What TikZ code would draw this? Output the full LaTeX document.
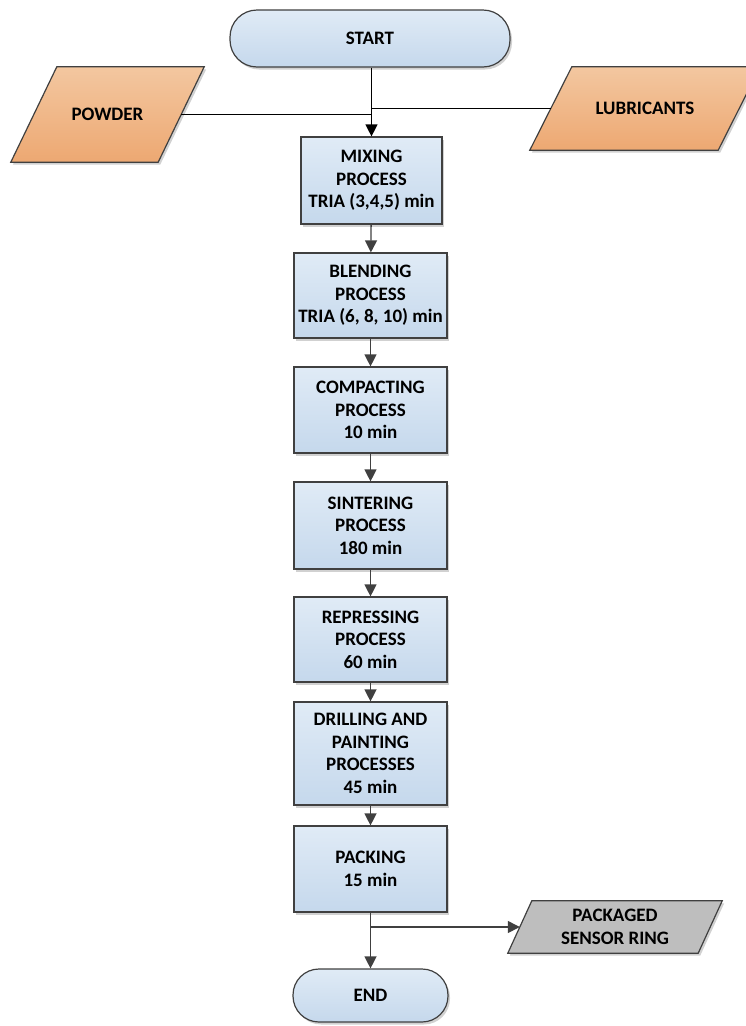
\documentclass[tikz,border=0pt]{standalone}
\usepackage{fontspec}
\setmainfont{Carlito}
\usetikzlibrary{shapes.misc,shadows,arrows.meta}
\definecolor{bluetop}{RGB}{224,235,246}
\definecolor{bluebot}{RGB}{197,216,236}
\definecolor{ortop}{RGB}{243,199,160}
\definecolor{orbot}{RGB}{237,168,114}
\definecolor{graybox}{RGB}{190,190,190}
\definecolor{edge}{RGB}{64,64,64}
\pgfdeclarelayer{bg}
\pgfsetlayers{bg,main}
\tikzset{
  every node/.style={font=\fontsize{19}{22.5}\selectfont\bfseries, align=center, inner sep=0pt},
  shad/.style={drop shadow={shadow xshift=2pt, shadow yshift=-2.5pt, fill=black, opacity=0.18}},
  procbox/.style={rectangle, draw=edge, line width=1.2pt, top color=bluetop, bottom color=bluebot, shad, minimum width=153pt},
  term/.style={rectangle, rounded corners=27pt, draw=edge, line width=1.2pt, top color=bluetop, bottom color=bluebot, shad},
  iotext/.style={rectangle},
  ioshape/.style={draw=edge, line width=1.2pt, shad, line join=miter},
  orangefill/.style={top color=ortop, bottom color=orbot},
  flow/.style={draw=edge, line width=1.3pt, -{Triangle[length=12pt,width=12pt]}},
  feed/.style={draw=black, line width=1.2pt},
}
\newcommand{\paraof}[3]{% node, half slant, style
  \begin{pgfonlayer}{bg}
  \path[ioshape,#3] ([xshift=-#2pt]#1.south west) -- ([xshift=-#2pt]#1.south east) -- ([xshift=#2pt]#1.north east) -- ([xshift=#2pt]#1.north west) -- cycle;
  \end{pgfonlayer}}
\begin{document}
\begin{tikzpicture}[x=1pt,y=-1pt]
\useasboundingbox (0,0) rectangle (745,1026);
\clip (0,0) rectangle (745,1026);
\node[term, minimum width=280pt, minimum height=57pt] (start) at (370,38.5) {START};
\node[iotext, minimum width=147pt, minimum height=95pt] (powder) at (107.5,114.5) {POWDER};
\paraof{powder}{23}{orangefill}
\node[iotext, minimum width=188pt, minimum height=83pt] (lub) at (645,108.5) {LUBRICANTS};
\paraof{lub}{21}{orangefill}
\node[procbox, minimum width=141pt, minimum height=87pt] (mix) at (371.5,180.5) {MIXING\\PROCESS\\TRIA (3,4,5) min};
\node[procbox, minimum height=85pt] (blend) at (370.5,295.5) {BLENDING\\PROCESS\\TRIA (6, 8, 10) min};
\node[procbox, minimum height=86pt] (comp) at (370.5,410) {COMPACTING\\PROCESS\\10 min};
\node[procbox, minimum height=87pt] (sint) at (370.5,525.5) {SINTERING\\PROCESS\\180 min};
\node[procbox, minimum height=85pt] (rep) at (370.5,639.5) {REPRESSING\\PROCESS\\60 min};
\node[procbox, minimum height=103pt] (drill) at (370.5,753.5) {DRILLING AND\\PAINTING\\PROCESSES\\45 min};
\node[procbox, minimum height=86pt] (pack) at (370.5,869) {PACKING\\15 min};
\node[iotext, minimum width=190pt, minimum height=52pt] (pkg) at (615,927) {PACKAGED\\SENSOR RING};
\paraof{pkg}{12}{fill=graybox}
\node[term, rounded corners=26pt, minimum width=155pt, minimum height=53pt] (end) at (370.5,995.5) {END};

\draw[feed] (powder.east) -- (powder.east -| mix.north);
\draw[feed] (lub.west) -- (lub.west -| mix.north);
\draw[flow, draw=black] (start.south -| mix.north) -- (mix.north);
\draw[flow] (mix) -- (blend);
\draw[flow] (blend) -- (comp);
\draw[flow] (comp) -- (sint);
\draw[flow] (sint) -- (rep);
\draw[flow] (rep) -- (drill);
\draw[flow] (drill) -- (pack);
\draw[flow] (pack.south) -- (end.north);
\coordinate (br) at (pack.south |- pkg.west);
\draw[flow] (br) -- (pkg.west);
\end{tikzpicture}
\end{document}
